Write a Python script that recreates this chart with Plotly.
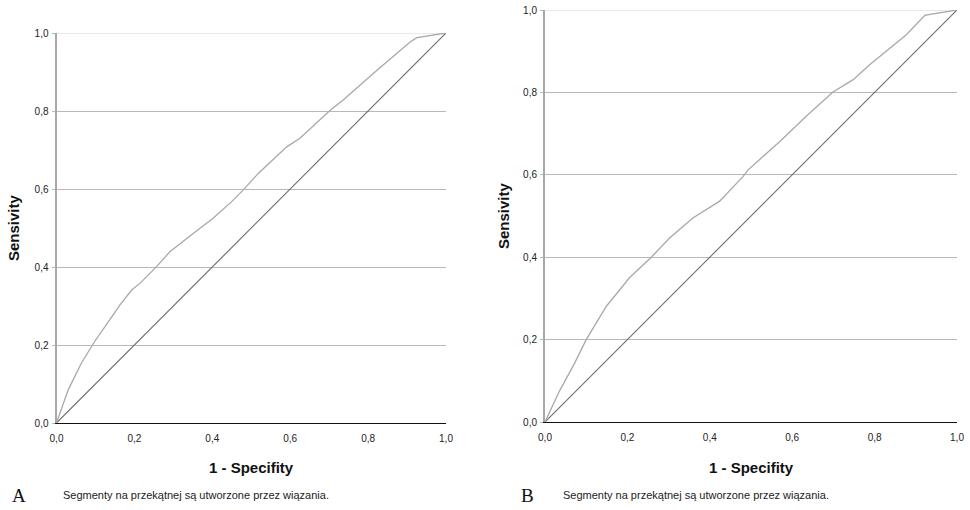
import plotly.graph_objects as go

# ---- data ----
roc_a_fpr = [0.0, 0.030, 0.064, 0.098, 0.137, 0.163, 0.193, 0.214, 0.257, 0.291, 0.351, 0.402,
             0.449, 0.479, 0.518, 0.591, 0.625, 0.685, 0.702, 0.736, 0.822, 0.908, 0.925, 1.0]
roc_a_tpr = [0.0, 0.085, 0.154, 0.209, 0.265, 0.303, 0.341, 0.358, 0.401, 0.439, 0.486, 0.525,
             0.567, 0.597, 0.640, 0.708, 0.730, 0.785, 0.801, 0.828, 0.904, 0.977, 0.988, 1.0]

roc_b_fpr = [0.0, 0.035, 0.072, 0.100, 0.149, 0.205, 0.258, 0.303, 0.359, 0.424, 0.481, 0.493,
             0.521, 0.570, 0.634, 0.699, 0.748, 0.788, 0.877, 0.922, 0.938, 1.0]
roc_b_tpr = [0.0, 0.075, 0.143, 0.200, 0.281, 0.350, 0.400, 0.447, 0.495, 0.536, 0.596, 0.612,
             0.637, 0.681, 0.742, 0.801, 0.831, 0.867, 0.940, 0.987, 0.990, 1.0]

ref_line = [0.0, 1.0]
tick_vals = [0.0, 0.2, 0.4, 0.6, 0.8, 1.0]
tick_text = ["0,0", "0,2", "0,4", "0,6", "0,8", "1,0"]

x_title = "1 - Specifity"
y_title = "Sensivity"
caption = "Segmenty na przekątnej są utworzone przez wiązania."
panel_labels = ["A", "B"]

W, H = 970, 510
# panel pixel boxes (left, right, top, bottom)
boxes = [(56.5, 446, 33, 423), (545, 957, 10, 422)]

fig = go.Figure()
curves = [(roc_a_fpr, roc_a_tpr), (roc_b_fpr, roc_b_tpr)]
FONT = "Liberation Sans, Arial, sans-serif"

for i, ((fx, ty), (l, r, t, b)) in enumerate(zip(curves, boxes)):
    xa = "x" if i == 0 else "x2"
    ya = "y" if i == 0 else "y2"
    fig.add_trace(go.Scatter(x=ref_line, y=ref_line, mode="lines", xaxis=xa, yaxis=ya,
                             line=dict(color="#6a6a6a", width=1.1), showlegend=False, hoverinfo="skip"))
    fig.add_trace(go.Scatter(x=fx, y=ty, mode="lines", xaxis=xa, yaxis=ya,
                             line=dict(color="#a8a8a8", width=1.3), showlegend=False))
    fig.add_shape(type="line", xref=xa, yref=ya, x0=0, x1=1, y0=1, y1=1,
                  line=dict(color="#d4d4d4", width=1), layer="below")

    xkey = "xaxis" if i == 0 else "xaxis2"
    ykey = "yaxis" if i == 0 else "yaxis2"
    fig.update_layout(**{
        xkey: dict(domain=[l / W, r / W], range=[0, 1], anchor=ya, tickvals=tick_vals, ticktext=tick_text,
                   showgrid=False, zeroline=False, showline=True, linecolor="#111111", linewidth=1,
                   ticks="", ticklabelstandoff=6, tickfont=dict(family=FONT, size=10, color="#222222"),
                   fixedrange=True, automargin=False),
        ykey: dict(domain=[1 - b / H, 1 - t / H], range=[0, 1], anchor=xa,
                   tickvals=tick_vals, ticktext=tick_text,
                   showgrid=True, gridcolor="#b8b8b8", gridwidth=1.2, zeroline=False,
                   showline=True, linecolor="#a8a8a8", linewidth=2,
                   ticks="outside", ticklen=3, tickcolor="#b8b8b8", ticklabelstandoff=1,
                   tickfont=dict(family=FONT, size=10, color="#222222"), fixedrange=True,
                   automargin=False),
    })

annotations = []
ytitle_pos = [(14, 228), (503, 216)]
for i, (l, r, t, b) in enumerate(boxes):
    annotations.append(dict(text="<b>" + x_title + "</b>", x=(l + r) / 2 / W, y=1 - 467 / H,
                            xref="paper", yref="paper", showarrow=False,
                            font=dict(family=FONT, size=15, color="#111111"),
                            xanchor="center", yanchor="middle"))
    annotations.append(dict(text="<b>" + y_title + "</b>", x=ytitle_pos[i][0] / W, y=1 - ytitle_pos[i][1] / H,
                            xref="paper", yref="paper", showarrow=False, textangle=-90,
                            font=dict(family=FONT, size=15, color="#111111"),
                            xanchor="center", yanchor="middle"))
cap_x = [61, 561]
lab_x = [19, 527]
for i in range(2):
    annotations.append(dict(text=caption, x=cap_x[i] / W, y=1 - 495 / H, xref="paper", yref="paper",
                            showarrow=False, xanchor="left", yanchor="middle",
                            font=dict(family=FONT, size=11, color="#222222")))
    annotations.append(dict(text=panel_labels[i], x=lab_x[i] / W, y=1 - 495 / H, xref="paper", yref="paper",
                            showarrow=False, xanchor="center", yanchor="middle",
                            font=dict(family="Liberation Serif, DejaVu Serif, serif", size=19, color="#111111")))

fig.update_layout(width=W, height=H, margin=dict(l=0, r=0, t=0, b=0, autoexpand=False),
                  paper_bgcolor="white", plot_bgcolor="white", annotations=annotations,
                  showlegend=False)

fig.write_html("out.html", config={"displayModeBar": False})
